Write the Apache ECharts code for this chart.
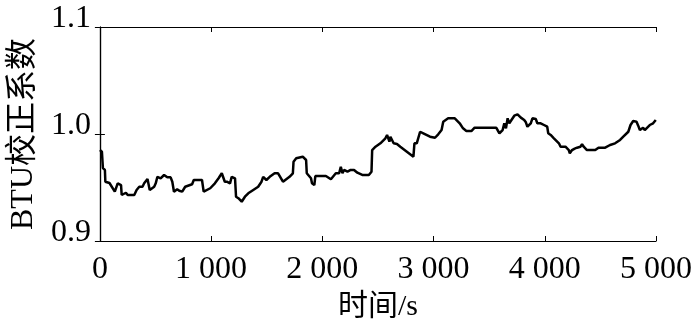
<!DOCTYPE html>
<html>
<head>
<meta charset="utf-8">
<script src="https://cdn.jsdelivr.net/npm/echarts@6/dist/echarts.min.js"></script>
<style>
html,body{margin:0;padding:0;background:#fff;}
#c{width:695px;height:331px;}
</style>
</head>
<body>
<div id="c"></div>
<script>
// Data
const timeS = [0,18,27,45,49,86,134,149,160,190,196,234,250,309,330,354,383,398,428,443,448,488,502,517,546,577,606,636,651,660,666,695,713,740,767,829,844,918,933,992,1034,1067,1096,1111,1123,1141,1170,1185,1215,1224,1245,1275,1304,1334,1349,1379,1423,1453,1468,1497,1527,1571,1602,1646,1661,1705,1735,1741,1765,1771,1824,1854,1860,1898,1907,1928,1937,2032,2077,2121,2151,2166,2181,2195,2226,2255,2285,2315,2359,2418,2442,2448,2478,2522,2567,2582,2603,2612,2641,2671,2701,2760,2819,2828,2849,2864,2879,2908,2968,3013,3042,3072,3087,3131,3191,3235,3265,3295,3340,3369,3563,3577,3592,3621,3636,3651,3666,3681,3696,3726,3755,3785,3815,3830,3844,3874,3889,3919,3933,3963,3993,4022,4031,4053,4082,4127,4142,4186,4216,4225,4245,4269,4290,4320,4335,4350,4379,4454,4483,4543,4587,4632,4677,4706,4751,4771,4795,4825,4840,4855,4884,4899,4944,4974,4998];
const btuFactor = [0.985,0.9835,0.9682,0.9664,0.9554,0.9542,0.9461,0.9477,0.9539,0.9523,0.943,0.9451,0.943,0.943,0.9477,0.9507,0.9507,0.9539,0.958,0.957,0.9477,0.9507,0.9539,0.960,0.9586,0.9617,0.9595,0.9595,0.9554,0.9554,0.9461,0.9483,0.947,0.9461,0.9507,0.953,0.957,0.957,0.9461,0.9493,0.9539,0.9586,0.9633,0.9633,0.9554,0.9554,0.9539,0.960,0.9586,0.9414,0.940,0.9367,0.9414,0.9446,0.9446,0.9477,0.9507,0.9554,0.960,0.957,0.960,0.9633,0.9633,0.9554,0.9539,0.960,0.9633,0.9741,0.9773,0.9788,0.9788,0.9757,0.9633,0.9586,0.9539,0.9523,0.9607,0.9607,0.9577,0.9633,0.9633,0.9694,0.9633,0.9664,0.9648,0.9664,0.9664,0.9638,0.9617,0.9617,0.9648,0.985,0.9881,0.9913,0.996,0.9991,0.9928,0.9975,0.9913,0.9907,0.9881,0.9835,0.9788,0.9913,0.9913,0.9897,1.0021,1.0006,0.9975,0.9965,0.9997,1.0037,1.0115,1.0147,1.0147,1.010,1.0053,1.0028,1.0028,1.0059,1.0059,1.0053,1.0007,1.0037,1.010,1.0053,1.0147,1.010,1.0115,1.0171,1.0184,1.0153,1.0131,1.0109,1.0068,1.010,1.0147,1.014,1.010,1.010,1.0084,1.0068,1.0007,0.9991,0.996,0.9913,0.9881,0.9881,0.985,0.982,0.985,0.9864,0.9872,0.9881,0.9904,0.9881,0.985,0.985,0.9872,0.9872,0.9897,0.9913,0.9944,0.9975,1.0021,1.0084,1.0121,1.0115,1.0078,1.0037,1.0059,1.0037,1.0084,1.010,1.0131];
const xTickLabels = ['0','1 000','2 000','3 000','4 000','5 000'];
const yTickLabels = ['0.9','1.0','1.1'];
const xName = '时间/s';
const yName = 'BTU校正系数';

const FONT = "'Liberation Serif', 'Noto Sans CJK SC', serif";
const seriesData = timeS.map((t, i) => [t, btuFactor[i]]);
const chart = echarts.init(document.getElementById('c'), null, {renderer: 'canvas'});
const axisLineStyle = {show: true, lineStyle: {color: '#000', width: 1.2}};
const tickIn = {show: true, inside: true, length: 5, lineStyle: {color: '#000', width: 1}};
chart.setOption({
  animation: false,
  backgroundColor: '#fff',
  grid: {left: 95, right: 39, top: 27, bottom: 90, containLabel: false},
  xAxis: [{
    type: 'value', min: 0, max: 5000, interval: 1000, position: 'bottom',
    axisLine: axisLineStyle, axisTick: tickIn, splitLine: {show: false},
    axisLabel: {
      margin: 13, color: '#000', fontFamily: FONT, fontSize: 32, lineHeight: 32,
      formatter: (v) => xTickLabels[Math.round(v / 1000)]
    },
    name: xName, nameLocation: 'middle', nameGap: 47,
    nameTextStyle: {color: '#000', fontFamily: FONT, fontSize: 30, lineHeight: 32}
  }, {
    type: 'value', min: 0, max: 5000, interval: 1000, position: 'top',
    axisLine: axisLineStyle, axisTick: tickIn, axisLabel: {show: false}, splitLine: {show: false}
  }],
  yAxis: [{
    type: 'value', min: 0.9, max: 1.1, interval: 0.1, position: 'left',
    axisLine: axisLineStyle, axisTick: tickIn, splitLine: {show: false},
    axisLabel: {
      margin: 9, color: '#000', fontFamily: FONT, fontSize: 32, lineHeight: 16,
      verticalAlign: 'bottom',
      formatter: (v) => yTickLabels[Math.round((v - 0.9) / 0.1)]
    },
    name: yName, nameLocation: 'middle', nameGap: 53, nameRotate: 90,
    nameTextStyle: {color: '#000', fontFamily: FONT, fontSize: 32, lineHeight: 32}
  }, {
    type: 'value', min: 0.9, max: 1.1, interval: 0.1, position: 'right',
    axisLine: axisLineStyle, axisTick: tickIn, axisLabel: {show: false}, splitLine: {show: false}
  }],
  series: [{
    type: 'line', xAxisIndex: 0, yAxisIndex: 0,
    data: seriesData, showSymbol: false, symbol: 'none',
    lineStyle: {color: '#000', width: 2.5}, smooth: false
  }]
});
</script>
</body>
</html>
